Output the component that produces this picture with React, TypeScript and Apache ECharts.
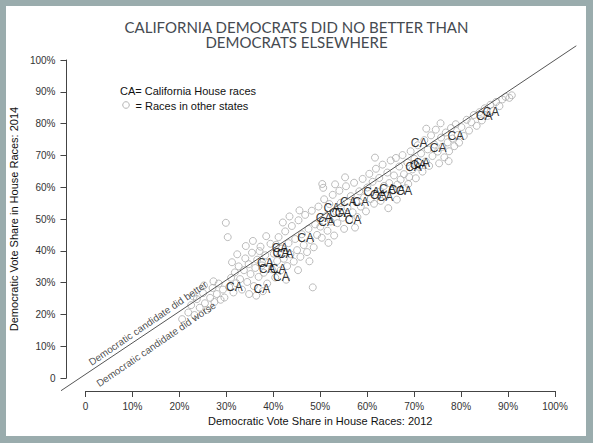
import React, { useEffect, useRef } from "react";
import * as echarts from "echarts";

// ---- Data (percent vote shares: [2012, 2014]) ----
const titleLines = ["CALIFORNIA DEMOCRATS DID NO BETTER THAN", "DEMOCRATS ELSEWHERE"];
const xAxisTitle = "Democratic Vote Share in House Races: 2012";
const yAxisTitle = "Democratic Vote Share in House Races: 2014";
const legendCA = "CA= California House races";
const legendOther = "= Races in other states";
const diagonal: [number, number][] = [[-4, -4], [104.5, 104.5]];
const diagonalNotes = [
  { name: "Democratic candidate did better", value: [14.3, 17.2] },
  { name: "Democratic candidate did worse", value: [16.0, 10.6] },
];

const caRaces: [number, number][] = [
  [32.5, 28.5], [38.3, 27.9], [39.0, 36.3], [39.4, 34.3], [41.7, 34.3], [42.4, 31.7],
  [42.1, 40.8], [42.3, 39.2], [43.2, 39.0], [47.5, 43.9], [51.4, 50.2], [51.9, 49.2],
  [53.0, 53.4], [54.2, 52.0], [55.4, 51.8], [57.5, 49.7], [56.5, 55.4], [59.1, 55.4],
  [61.4, 58.6], [62.8, 57.5], [64.2, 56.8], [64.7, 59.4], [66.7, 59.1], [68.2, 58.9],
  [70.2, 66.4], [71.2, 67.0], [71.9, 67.5], [71.4, 73.8], [75.4, 72.2], [79.1, 76.2],
  [85.1, 82.4], [86.5, 83.6],
];

const otherLow: [number, number][] = [
  [21.5, 18.5], [22.8, 20.6], [23.4, 22.9], [24.1, 19.8], [24.6, 24.8], [25.2, 22.1],
  [25.9, 26.7], [26.3, 23.5], [26.8, 21.4], [27.4, 25.2], [27.9, 28.3], [28.3, 23.9],
  [28.8, 26.4], [29.2, 29.7], [29.6, 24.6], [30.1, 27.8], [30.4, 25.3], [23.9, 25.6],
  [26.1, 29.1], [28.1, 30.4], [30.7, 48.8], [31.1, 44.3],
];
const otherMidLow: [number, number][] = [
  [31.4, 28.6], [31.8, 31.5], [32.3, 26.9], [32.6, 33.2], [32.9, 29.8], [33.4, 35.1],
  [33.7, 31.1], [34.1, 27.8], [34.5, 33.9], [34.8, 37.6], [35.2, 30.2], [35.5, 35.8],
  [35.9, 32.7], [36.2, 39.4], [36.6, 28.9], [36.9, 34.6], [37.3, 37.2], [37.6, 31.8],
  [38.0, 41.3], [38.3, 35.4], [38.7, 33.1], [39.0, 38.6], [39.4, 29.7], [39.7, 36.3],
  [40.1, 42.2], [40.4, 34.2], [33.1, 38.9], [34.9, 41.5], [36.4, 43.1], [37.8, 39.9],
  [39.2, 44.6], [35.6, 26.4], [38.5, 27.3], [32.0, 36.4], [37.1, 25.9],
];
const otherMid: [number, number][] = [
  [40.8, 39.1], [41.1, 31.6], [41.5, 36.8], [41.8, 44.3], [42.2, 33.8], [42.5, 40.7],
  [42.9, 37.5], [43.2, 46.1], [43.6, 35.2], [43.9, 42.4], [44.3, 38.9], [44.6, 47.8],
  [45.0, 36.6], [45.3, 43.7], [45.7, 40.2], [46.0, 49.6], [46.4, 38.1], [46.7, 45.2],
  [47.1, 41.8], [47.4, 51.3], [47.8, 39.6], [48.1, 46.9], [48.5, 43.4], [48.8, 52.6],
  [49.2, 41.1], [49.5, 48.3], [49.9, 45.0], [50.2, 53.9], [44.1, 50.8], [45.9, 33.9],
  [48.3, 36.7], [42.7, 48.9], [49.0, 28.5], [46.2, 52.7], [41.3, 41.9], [43.4, 30.9],
];
const otherMidHigh: [number, number][] = [
  [50.6, 47.6], [50.9, 44.1], [51.2, 59.8], [51.4, 56.2], [51.8, 50.9], [52.1, 46.3],
  [52.5, 54.7], [52.8, 49.2], [53.2, 57.6], [53.5, 44.8], [53.9, 52.3], [54.2, 48.7],
  [54.6, 58.9], [54.9, 55.1], [55.3, 50.4], [55.6, 46.9], [56.0, 60.3], [56.3, 53.6],
  [56.7, 49.8], [57.0, 57.2], [57.4, 52.1], [57.7, 61.4], [58.1, 55.4], [58.4, 50.6],
  [58.8, 58.7], [59.1, 53.9], [59.5, 62.6], [59.8, 56.8], [51.0, 61.0], [55.8, 63.1],
  [57.9, 47.3], [53.7, 60.9], [52.3, 42.5],
  [60.2, 52.4], [60.5, 59.9], [60.9, 64.2], [61.2, 56.3], [61.6, 61.7], [61.9, 54.8],
  [62.3, 65.8], [62.6, 58.6], [63.0, 62.9], [63.3, 55.7], [63.7, 67.1], [64.0, 60.4],
  [64.4, 57.2], [64.7, 64.6], [65.1, 61.3], [65.4, 68.4], [65.8, 58.9], [66.1, 63.7],
  [66.5, 69.2], [66.8, 60.8], [67.2, 66.5], [67.5, 62.4], [67.9, 70.1], [68.2, 64.1],
  [68.6, 59.7], [68.9, 67.8], [69.3, 63.2], [69.6, 71.3], [70.0, 65.6], [62.1, 69.3],
  [64.9, 53.4], [66.7, 56.1], [69.1, 61.0],
];
const otherHigh: [number, number][] = [
  [70.4, 68.9], [70.7, 62.8], [71.1, 73.2], [71.4, 66.4], [71.8, 70.6], [72.1, 64.9],
  [72.5, 74.8], [72.8, 68.1], [73.2, 71.9], [73.5, 66.7], [73.9, 76.3], [74.2, 69.8],
  [74.6, 73.4], [74.9, 78.1], [75.3, 71.2], [75.6, 67.5], [76.0, 75.6], [76.3, 72.7],
  [76.7, 69.4], [77.0, 77.2], [77.4, 74.1], [77.7, 71.3], [78.1, 78.6], [78.4, 75.3],
  [78.8, 72.9], [79.1, 79.8], [79.5, 76.4], [79.8, 74.0], [72.9, 78.4], [75.9, 80.1],
  [77.6, 68.2],
  [80.3, 78.9], [80.8, 76.1], [81.4, 81.2], [81.9, 77.8], [82.4, 80.4], [82.9, 82.7],
  [83.5, 79.3], [84.1, 83.6], [84.6, 81.0], [85.2, 84.8], [85.8, 82.4], [86.4, 85.9],
  [87.0, 84.1], [87.6, 86.8], [88.3, 85.5], [88.9, 87.6], [89.6, 88.4], [90.4, 88.1],
  [90.9, 88.9],
];

const FRAME = "#9aacad";
const SANS = "'Liberation Sans', Arial, sans-serif";

export default function App() {
  const ref = useRef<HTMLDivElement>(null);
  useEffect(() => {
    document.body.style.margin = "0";
    const chart = echarts.init(ref.current!, null, { renderer: "svg" });
    const otherRaces = [...otherLow, ...otherMidLow, ...otherMid, ...otherMidHigh, ...otherHigh];
    const axisCommon = {
      type: "value",
      min: 0,
      max: 100,
      interval: 10,
      axisLine: { show: true, onZero: false, lineStyle: { color: "#444", width: 1 } },
      axisTick: { show: true, length: 6, lineStyle: { color: "#444", width: 1 } },
      splitLine: { show: false },
      axisLabel: {
        fontSize: 10,
        color: "#333",
        fontFamily: SANS,
        formatter: (v: number) => (v === 0 ? "0" : v + "%"),
      },
      nameLocation: "middle",
      nameTextStyle: { fontSize: 11, color: "#111", fontFamily: SANS },
    };
    chart.setOption({
      animation: false,
      grid: [
        { left: 61, right: 16.6, top: 45.7, bottom: 52.3 },
        { left: 80, right: 38, top: 60, bottom: 65 },
      ],
      xAxis: [
        { gridIndex: 0, type: "value", min: -4, max: 104.5, show: false },
        {
          ...axisCommon,
          gridIndex: 1,
          position: "bottom",
          offset: 13,
          axisLabel: { ...axisCommon.axisLabel, margin: 10 },
          name: xAxisTitle,
          nameGap: 24,
        },
      ],
      yAxis: [
        { gridIndex: 0, type: "value", min: -4, max: 104.5, show: false },
        {
          ...axisCommon,
          gridIndex: 1,
          position: "left",
          offset: 19,
          axisLabel: { ...axisCommon.axisLabel, margin: 11 },
          name: yAxisTitle,
          nameGap: 33,
        },
      ],
      graphic: [
        {
          type: "text", x: 296.5, y: 27,
          style: { text: titleLines[0], fill: "#454a50", fontSize: 15, fontFamily: "Lato", align: "center", verticalAlign: "middle" },
        },
        {
          type: "text", x: 296.5, y: 42,
          style: { text: titleLines[1], fill: "#454a50", fontSize: 15, fontFamily: "Lato", align: "center", verticalAlign: "middle" },
        },
        {
          type: "text", x: 120, y: 91,
          style: { text: legendCA, fill: "#111", fontSize: 11, fontFamily: SANS, align: "left", verticalAlign: "middle" },
        },
        {
          type: "circle", shape: { cx: 126, cy: 105, r: 3.3 },
          style: { fill: "none", stroke: "#b3b3b3", lineWidth: 1 },
        },
        {
          type: "text", x: 135.5, y: 105.5,
          style: { text: legendOther, fill: "#111", fontSize: 11, fontFamily: SANS, align: "left", verticalAlign: "middle" },
        },
      ],
      series: [
        {
          type: "line",
          xAxisIndex: 0,
          yAxisIndex: 0,
          data: diagonal,
          symbol: "none",
          silent: true,
          lineStyle: { color: "#555", width: 1 },
        },
        {
          type: "scatter",
          xAxisIndex: 0,
          yAxisIndex: 0,
          data: otherRaces,
          symbol: "circle",
          symbolSize: 7,
          silent: true,
          itemStyle: { color: "rgba(0,0,0,0)", borderColor: "#ababab", borderWidth: 1 },
        },
        {
          type: "scatter",
          xAxisIndex: 0,
          yAxisIndex: 0,
          data: caRaces,
          symbol: "circle",
          symbolSize: 1,
          silent: true,
          itemStyle: { color: "rgba(0,0,0,0)" },
          label: {
            show: true,
            position: "inside",
            formatter: () => "CA",
            fontSize: 12,
            color: "#000",
            fontFamily: SANS,
          },
        },
        {
          type: "scatter",
          xAxisIndex: 0,
          yAxisIndex: 0,
          data: diagonalNotes,
          symbol: "circle",
          symbolSize: 1,
          silent: true,
          itemStyle: { color: "rgba(0,0,0,0)" },
          label: {
            show: true,
            position: "inside",
            formatter: (p: any) => p.name,
            rotate: 34.4,
            fontSize: 10,
            color: "#222",
            fontFamily: SANS,
          },
        },
      ],
    });
    return () => chart.dispose();
  }, []);
  return (
    <div style={{ position: "relative", width: 593, height: 443, background: FRAME }}>
      <div style={{ position: "absolute", left: 6, top: 6, width: 580, height: 430, background: "#fff" }} />
      <div ref={ref} style={{ position: "absolute", left: 0, top: 0, width: 593, height: 443 }} />
    </div>
  );
}
